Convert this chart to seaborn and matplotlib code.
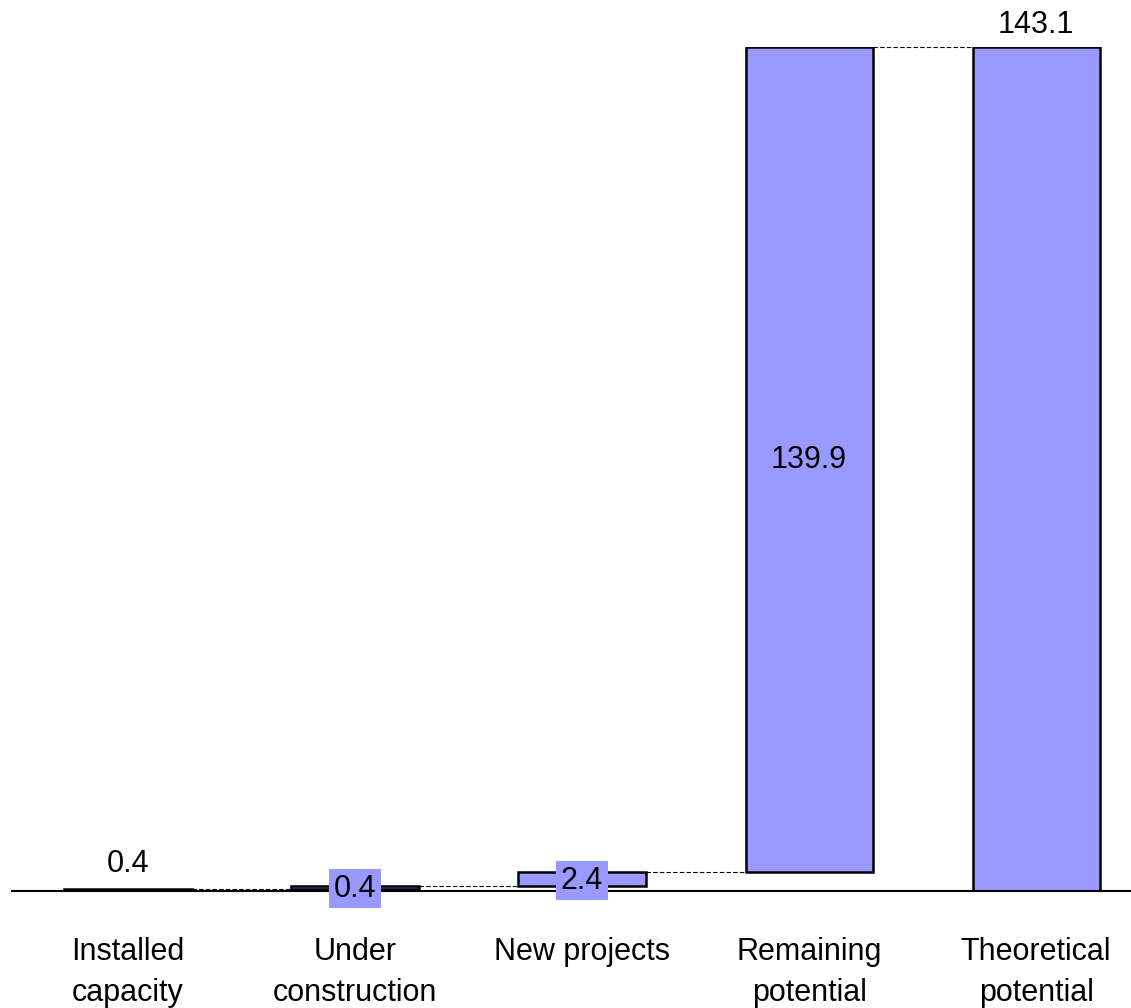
import matplotlib
matplotlib.use("Agg")
import matplotlib.pyplot as plt
import seaborn as sns
import pandas as pd
import numpy as np

categories = ["Installed\ncapacity", "Under\nconstruction", "New projects",
              "Remaining\npotential", "Theoretical\npotential"]
steps = [0.4, 0.4, 2.4, 139.9]
total = 143.1
value_labels = ["0.4", "0.4", "2.4", "139.9", "143.1"]

sns.set_theme(style="white")
plt.rcParams["font.family"] = ["Liberation Sans", "DejaVu Sans"]
plt.rcParams["text.color"] = "black"
plt.rcParams["xtick.color"] = "black"

heights = steps + [total]
bottoms = list(np.concatenate([[0], np.cumsum(steps)[:-1]])) + [0]
tops = [b + h for b, h in zip(bottoms, heights)]

df = pd.DataFrame({"category": categories, "height": heights})

fig = plt.figure(figsize=(11.31, 10.08), dpi=100)
ax = fig.add_axes([12 / 1131, 117 / 1008, 1 - 12 / 1131, (891 - 47) / 1008])

fill = "#9999FF"
width = 0.56
sns.barplot(data=df, x="category", y="height", bottom=bottoms, color=fill,
            saturation=1, width=width, edgecolor="black", linewidth=1.8, ax=ax)

# dashed connectors between consecutive bars
for i in range(len(heights) - 1):
    level = tops[i]
    ax.plot([i + width / 2, i + 1 - width / 2], [level, level],
            ls="--", color="black", lw=0.8, dashes=(4, 2))

# value labels
fs = 22
ax.annotate(value_labels[0], (0, tops[0]), xytext=(0, 7), textcoords="offset points",
            ha="center", va="bottom", fontsize=fs)
for i in (1, 2):
    mid = bottoms[i] + heights[i] / 2
    ax.annotate(value_labels[i], (i, mid), xytext=(0, -1), textcoords="offset points",
                ha="center", va="center", fontsize=fs,
                bbox=dict(boxstyle="square,pad=0.15", fc=fill, ec="none"))
ax.text(3, bottoms[3] + heights[3] / 2, value_labels[3], ha="center", va="center",
        fontsize=fs)
ax.annotate(value_labels[4], (4, tops[4]), xytext=(0, 5), textcoords="offset points",
            ha="center", va="bottom", fontsize=fs)

ax.set_ylim(0, total)
ax.set_xlim(-0.511, 4.418)
ax.set_xlabel("")
ax.set_ylabel("")
ax.set_yticks([])
ax.tick_params(axis="x", length=0, pad=33, labelsize=22)
for lbl in ax.get_xticklabels():
    lbl.set_linespacing(1.5)
for s in ("top", "right", "left"):
    ax.spines[s].set_visible(False)
ax.spines["bottom"].set_color("black")
ax.spines["bottom"].set_linewidth(1.5)

fig.savefig("out.png", dpi=100)
